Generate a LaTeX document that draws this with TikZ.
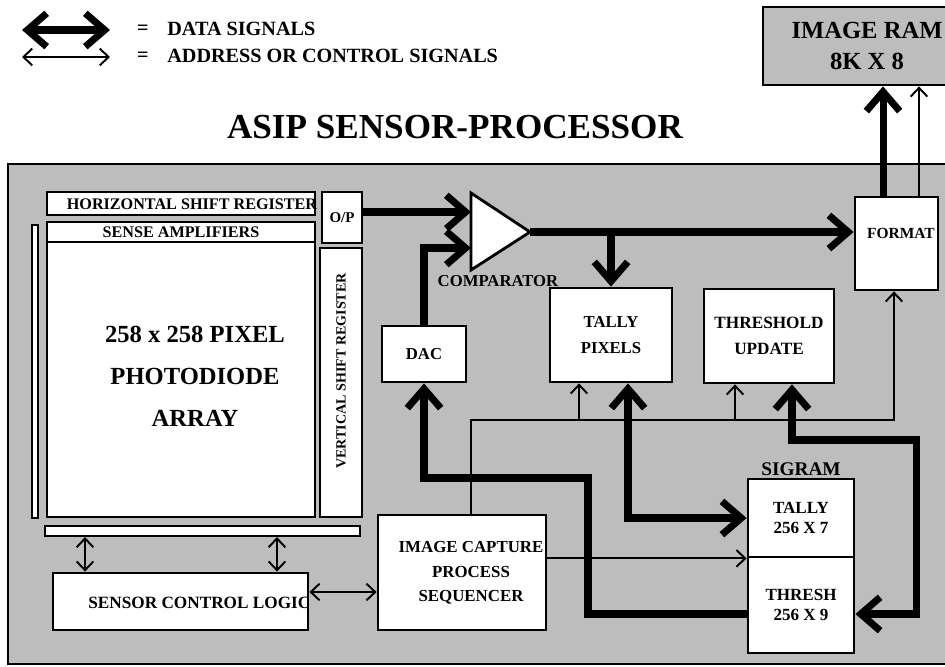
\documentclass[tikz,border=0pt]{standalone}
\usepackage{fontspec}
\setmainfont{Liberation Serif}
\usetikzlibrary{arrows.meta}
\definecolor{halftone}{HTML}{BDBDBD}

\tikzset{
  thk/.tip={Straight Barb[length=11pt,width=19pt]},
  thn/.tip={Straight Barb[length=5pt,width=9.5pt]},
  blk/.style={draw, line width=1.6pt, fill=white, inner sep=0pt, align=center,
              font=\bfseries\fontsize{9.5}{14}\selectfont},
  txt/.style={inner sep=0pt, align=center, font=\bfseries\fontsize{9.5}{14}\selectfont},
  data/.style={line width=4pt},
  ctrl/.style={line width=1.1pt},
}

\begin{document}
\begin{tikzpicture}[x=0.02cm, y=-0.02cm]
    \useasboundingbox (0,0) rectangle (945,666);
    \clip (0,0) rectangle (945,666);

    % Legend
    \coordinate (leg1a) at (22,30);
    \coordinate (leg1b) at (110,30);
    \coordinate (leg2a) at (22,57);
    \coordinate (leg2b) at (110,57);
    \draw[data, thk-thk] (leg1a) -- (leg1b);
    \draw[ctrl, thn-thn] (leg2a) -- (leg2b);
    \node[txt, font=\bfseries\fontsize{11.5}{14}\selectfont] (eq1) at (143,30) {=};
    \node[txt, font=\bfseries\fontsize{11.5}{14}\selectfont] (eq2) at (143,57) {=};
    \node[txt, anchor=west, font=\bfseries\fontsize{11.5}{14}\selectfont] (datalbl) at (167,29) {DATA SIGNALS};
    \node[txt, anchor=west, font=\bfseries\fontsize{11.5}{14}\selectfont] (ctrllbl) at (167,56) {ADDRESS OR CONTROL SIGNALS};

    % Image RAM
    \node[blk, fill=halftone, minimum width=4.16cm, minimum height=1.56cm,
          font=\bfseries\fontsize{14}{18}\selectfont] (ram) at (867,46) {IMAGE RAM\\8K X 8};

    % Title
    \node[txt, font=\bfseries\fontsize{20}{24}\selectfont] (title) at (455,127) {ASIP SENSOR-PROCESSOR};

    % Chip outline
    \draw[line width=1.6pt, fill=halftone] (8,164) rectangle (980,664);

    % Sensor array
    \node[blk, minimum width=5.36cm, minimum height=0.46cm] (hsr) at (181,203.5) {};
    \node[txt, font=\bfseries\fontsize{9.2}{11}\selectfont] (hsrtxt) at (192,204) {HORIZONTAL SHIFT REGISTER};
    \node[blk, minimum width=5.36cm, minimum height=0.40cm,
          font=\bfseries\fontsize{9.2}{11}\selectfont] (sense) at (181,232) {SENSE AMPLIFIERS};
    \node[blk, minimum width=5.36cm, minimum height=5.5cm] (array) at (181,379.5) {};
    \node[txt, font=\bfseries\fontsize{14}{23.8}\selectfont] (arraytxt) at (195,376)
          {258 x 258 PIXEL\\PHOTODIODE\\ARRAY};
    \node[blk, line width=1.2pt, minimum width=0.12cm, minimum height=5.86cm] (leftbar) at (35,371.5) {};
    \node[blk, line width=1.2pt, minimum width=6.3cm, minimum height=0.2cm] (botbar) at (202.5,531) {};
    \node[blk, minimum width=0.84cm, minimum height=5.38cm] (vsr) at (341,382.5) {};
    \node[txt, rotate=90, font=\bfseries\fontsize{8}{10}\selectfont] (vsrtxt) at (341,371) {VERTICAL SHIFT REGISTER};
    \node[blk, minimum width=0.8cm, minimum height=1.02cm,
          font=\bfseries\fontsize{8.5}{10}\selectfont] (op) at (342,217.5) {O/P};

    % Control blocks
    \node[blk, minimum width=5.1cm, minimum height=1.14cm] (scl) at (180.5,601.5) {};
    \node[txt, anchor=west, font=\bfseries\fontsize{9.8}{12}\selectfont] (scltxt) at (88,603) {SENSOR CONTROL LOGIC};
    \node[blk, minimum width=3.36cm, minimum height=2.3cm] (ipc) at (462,572.5) {};
    \node[txt, font=\bfseries\fontsize{9.6}{13.9}\selectfont] (ipctxt) at (471,573)
          {IMAGE CAPTURE\\PROCESS\\SEQUENCER};
    \node[blk, minimum width=1.68cm, minimum height=1.12cm] (dac) at (424,354) {DAC};

    % Comparator
    \coordinate (ctop) at (471,193);
    \coordinate (cbot) at (471,270);
    \coordinate (cout) at (530,232);
    \coordinate (cin1) at (471,212);
    \coordinate (cin2) at (471,248);
    \draw[line width=1.6pt, fill=white] (ctop) -- (cout) -- (cbot) -- cycle;
    \node[txt] (complbl) at (498,281) {COMPARATOR};

    % Processing blocks
    \node[blk, minimum width=2.44cm, minimum height=1.88cm,
          font=\bfseries\fontsize{9.5}{14.7}\selectfont] (tallypx) at (611,335) {TALLY\\PIXELS};
    \node[blk, minimum width=2.6cm, minimum height=1.88cm,
          font=\bfseries\fontsize{9.8}{14.7}\selectfont] (thrupd) at (769,336) {THRESHOLD\\UPDATE};
    \node[blk, minimum width=1.66cm, minimum height=1.86cm] (format) at (896.5,243.5) {};
    \node[txt, font=\bfseries\fontsize{8.8}{10}\selectfont] (formattxt) at (901,233) {FORMAT};

    % SIGRAM
    \node[blk, minimum width=2.12cm, minimum height=1.56cm,
          font=\bfseries\fontsize{9.7}{11.5}\selectfont] (tally) at (801,518) {TALLY\\256 X 7};
    \node[blk, minimum width=2.12cm, minimum height=1.92cm,
          font=\bfseries\fontsize{9.7}{11}\selectfont] (thresh) at (801,605) {THRESH\\256 X 9};
    \node[above, inner sep=1pt, font=\bfseries\fontsize{11}{13}\selectfont] (siglbl) at (tally.north) {SIGRAM};

    % Data paths
    \draw[data, -thk] (op.east |- cin1) -- (cin1);
    \draw[data, -thk] (dac.north) |- (cin2);
    \draw[data, -thk] (cout) -- (cout -| format.west);
    \draw[data, -thk] (cout -| tallypx.north) -- (tallypx.north);
    \coordinate (fmtthk) at ([xshift=-0.27cm]format.north);
    \coordinate (fmtthn) at ([xshift=0.45cm]format.north);
    \draw[data, -thk] (fmtthk) -- (fmtthk |- ram.south);
    \draw[ctrl, -thn] (fmtthn) -- (fmtthn |- ram.south);

    \coordinate (dacbend) at (588,478);
    \coordinate (thrin) at ([yshift=-0.18cm]thresh.west);
    \draw[data, -thk] (thrin) -| (dacbend) -| (dac.south);
    \coordinate (tpdata) at ([xshift=0.34cm]tallypx.south);
    \draw[data, thk-thk] (tpdata) |- (tally.west);
    \coordinate (tudata) at ([xshift=0.46cm]thrupd.south);
    \coordinate (thrbend) at (916,440);
    \coordinate (throut) at ([yshift=-0.18cm]thresh.east);
    \draw[data, thk-thk] (tudata) |- (thrbend) |- (throut);

    % Control paths
    \coordinate (busl) at (471,420);
    \coordinate (busr) at (894,420);
    \draw[ctrl, -thn] (ipc.north -| busl) -- (busl) -- (busr) -- (busr |- format.south);
    \coordinate (tpctrl) at ([xshift=-0.64cm]tallypx.south);
    \coordinate (tuctrl) at ([xshift=-0.68cm]thrupd.south);
    \draw[ctrl, -thn] (tpctrl |- busl) -- (tpctrl);
    \draw[ctrl, -thn] (tuctrl |- busl) -- (tuctrl);
    \draw[ctrl, -thn] (ipc.east |- tally.south west) -- (tally.south west);
    \coordinate (sclport) at ([yshift=0.19cm]scl.east);
    \draw[ctrl, thn-thn] (sclport) -- (sclport -| ipc.west);
    \coordinate (sclL) at ([xshift=-1.91cm]scl.north);
    \coordinate (sclR) at ([xshift=1.93cm]scl.north);
    \draw[ctrl, thn-thn] (sclL) -- (sclL |- botbar.south);
    \draw[ctrl, thn-thn] (sclR) -- (sclR |- botbar.south);
\end{tikzpicture}
\end{document}
